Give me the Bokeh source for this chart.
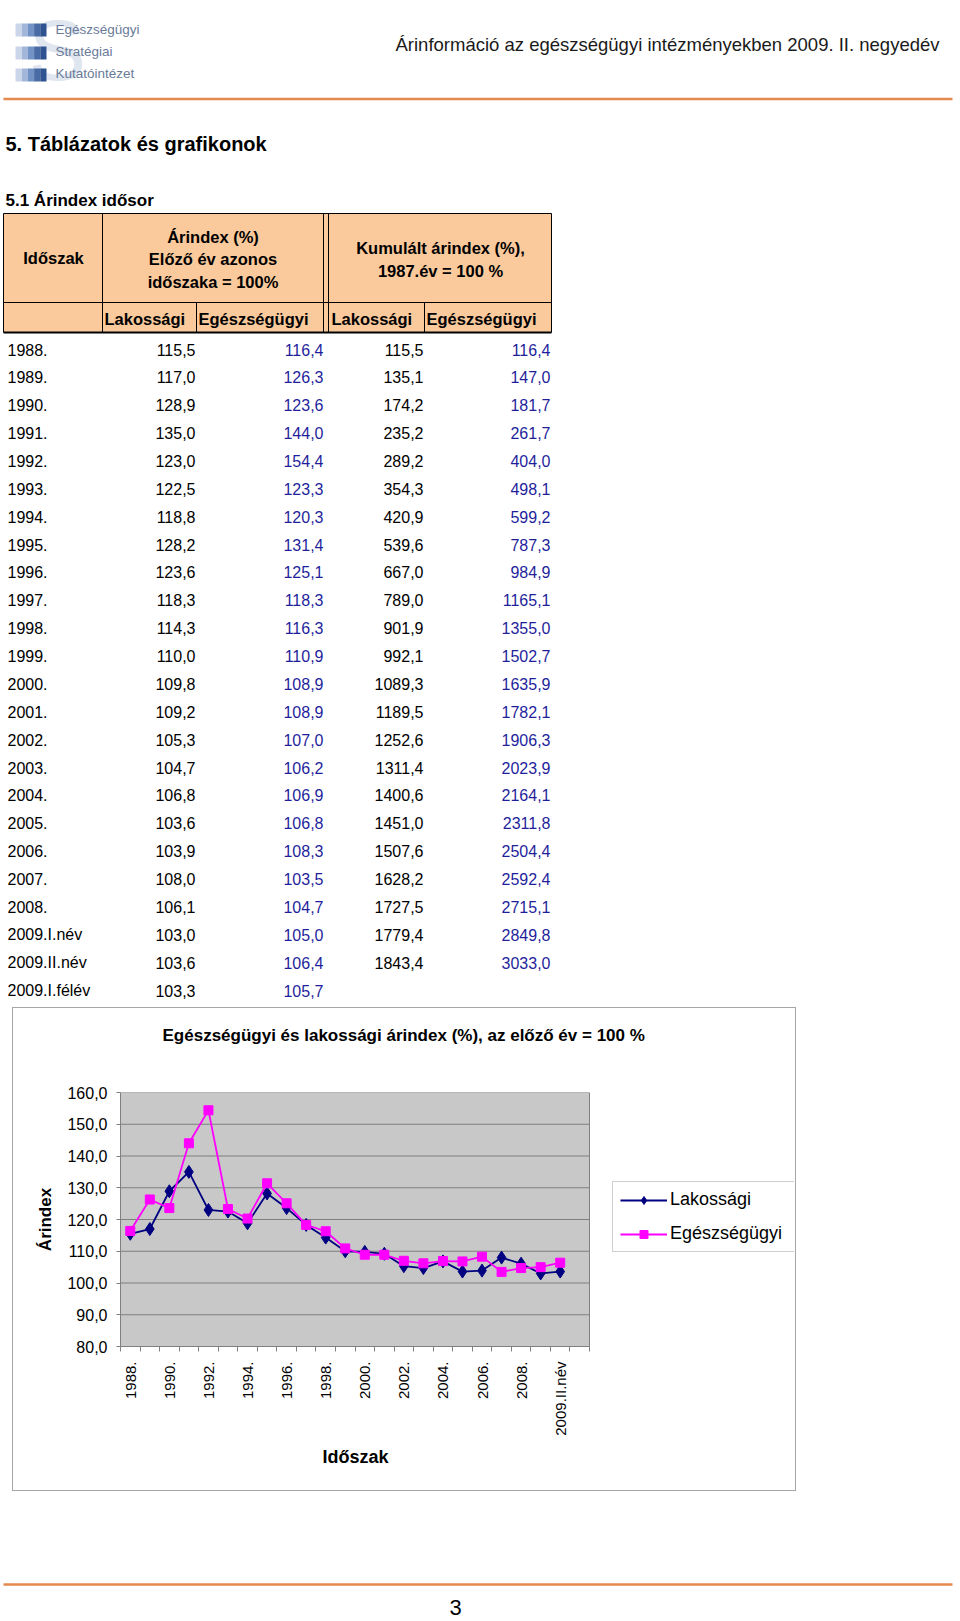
import numpy as np
from bokeh.plotting import figure
from bokeh.models import (Range1d, FixedTicker, Legend, LegendItem, Spacer,
                          ColumnDataSource, Title)
from bokeh.layouts import column, row
from bokeh.core.properties import value
from bokeh.embed import file_html
from bokeh.resources import INLINE

# ---------------- data ----------------
periods = ["1988.", "1989.", "1990.", "1991.", "1992.", "1993.", "1994.", "1995.",
           "1996.", "1997.", "1998.", "1999.", "2000.", "2001.", "2002.", "2003.",
           "2004.", "2005.", "2006.", "2007.", "2008.", "2009.I.név", "2009.II.név",
           "2009.I.félév"]
lakossagi = [115.5, 117.0, 128.9, 135.0, 123.0, 122.5, 118.8, 128.2, 123.6, 118.3,
             114.3, 110.0, 109.8, 109.2, 105.3, 104.7, 106.8, 103.6, 103.9, 108.0,
             106.1, 103.0, 103.6, 103.3]
egeszsegugyi = [116.4, 126.3, 123.6, 144.0, 154.4, 123.3, 120.3, 131.4, 125.1, 118.3,
                116.3, 110.9, 108.9, 108.9, 107.0, 106.2, 106.9, 106.8, 108.3, 103.5,
                104.7, 105.0, 106.4, 105.7]
kum_lakossagi = [115.5, 135.1, 174.2, 235.2, 289.2, 354.3, 420.9, 539.6, 667.0, 789.0,
                 901.9, 992.1, 1089.3, 1189.5, 1252.6, 1311.4, 1400.6, 1451.0, 1507.6,
                 1628.2, 1727.5, 1779.4, 1843.4, None]
kum_egeszsegugyi = [116.4, 147.0, 181.7, 261.7, 404.0, 498.1, 599.2, 787.3, 984.9,
                    1165.1, 1355.0, 1502.7, 1635.9, 1782.1, 1906.3, 2023.9, 2164.1,
                    2311.8, 2504.4, 2592.4, 2715.1, 2849.8, 3033.0, None]

chart_periods = periods[:23]          # periods plotted in the chart
chart_slots = 24                      # category slots on the chart axis (last one empty)
y_ticks = [80, 90, 100, 110, 120, 130, 140, 150, 160]

page_header = "Árinformáció az egészségügyi intézményekben 2009. II. negyedév"
section_title = "5. Táblázatok és grafikonok"
table_title = "5.1 Árindex idősor"
chart_title = "Egészségügyi és lakossági árindex (%), az előző év = 100 %"
x_title = "Időszak"
y_title = "Árindex"
logo_lines = ["Egészségügyi", "Stratégiai", "Kutatóintézet"]
page_number = "3"

ARIAL = "Liberation Sans"
BLUE_TXT = "#1f1f9c"
ORANGE = "#e58a4e"
BOX_GRAY = "#a6a6a6"


def fmt(v):
    return "" if v is None else f"{v:.1f}".replace(".", ",")


def blank(fig):
    fig.grid.visible = False
    fig.outline_line_color = None
    fig.background_fill_color = "white"
    fig.border_fill_color = "white"


# ---------------- top part: header + table ----------------
top = figure(width=960, height=1007, x_range=Range1d(0, 960), y_range=Range1d(1007, 0),
             output_backend="svg", toolbar_location=None, x_axis_type=None,
             y_axis_type=None, min_border=0)
blank(top)

# logo
top.text(x=[57], y=[49], text=["S"], text_font=value(ARIAL), text_font_size="86px",
         text_color="#dfe6ef", text_align="center", text_baseline="middle")
sq_centers = [29.5, 52.5, 74.5]
shades = ["#cbd6ea", "#a2b6d9", "#7393c6", "#4a6ca6", "#2f5291"]
for yc in sq_centers:
    for k, c in enumerate(shades):
        top.quad(left=[15 + 6.2 * k], right=[15 + 6.2 * (k + 1)], top=[yc - 6.5],
                 bottom=[yc + 6.5], fill_color=c, line_color=None)
top.text(x=[55] * 3, y=[29, 51, 73], text=logo_lines, text_font=value(ARIAL),
         text_font_size="13.5px", text_color="#6a7b99", text_baseline="middle")

top.text(x=[939], y=[44], text=[page_header], text_font=value(ARIAL),
         text_font_size="18.5px", text_color="#1a1a1a", text_align="right",
         text_baseline="middle")
top.segment(x0=[3], x1=[952], y0=[98.5], y1=[98.5], line_color=ORANGE, line_width=2.5)

top.text(x=[5], y=[143], text=[section_title], text_font=value(ARIAL),
         text_font_size="20px", text_font_style="bold", text_color="black",
         text_baseline="middle")
top.text(x=[5], y=[200], text=[table_title], text_font=value(ARIAL),
         text_font_size="17px", text_font_style="bold", text_color="black",
         text_baseline="middle")

# table header
top.quad(left=[3], right=[551], top=[213], bottom=[332], fill_color="#fbca9c",
         line_color=None)
top.segment(x0=[3, 3], x1=[551, 551], y0=[213, 302], y1=[213, 302],
            line_color="black", line_width=1)
top.segment(x0=[3], x1=[551], y0=[332], y1=[332], line_color="black", line_width=2)
top.segment(x0=[3, 102, 323, 328, 551, 196, 424],
            x1=[3, 102, 323, 328, 551, 196, 424],
            y0=[213, 213, 213, 213, 213, 302, 302],
            y1=[332, 332, 332, 332, 332, 332, 332], line_color="black", line_width=1)

hdr_font = dict(text_font=value(ARIAL), text_font_size="16.5px", text_font_style="bold",
                text_color="black", text_baseline="middle")
top.text(x=[53], y=[257], text=["Időszak"], text_align="center", **hdr_font)
top.text(x=[212.5] * 3, y=[236, 258.5, 281],
         text=["Árindex (%)", "Előző év azonos", "időszaka = 100%"],
         text_align="center", **hdr_font)
top.text(x=[440] * 2, y=[247, 270], text=["Kumulált árindex (%),", "1987.év = 100 %"],
         text_align="center", **hdr_font)
top.text(x=[104, 198, 331, 426], y=[318] * 4,
         text=["Lakossági", "Egészségügyi", "Lakossági", "Egészségügyi"],
         text_align="left", **hdr_font)

# table body
row_y = [349 + 27.87 * i for i in range(len(periods))]
src = ColumnDataSource(dict(
    y=row_y, period=periods,
    lak=[fmt(v) for v in lakossagi], eg=[fmt(v) for v in egeszsegugyi],
    klak=[fmt(v) for v in kum_lakossagi], keg=[fmt(v) for v in kum_egeszsegugyi]))
body_font = dict(text_font=value(ARIAL), text_font_size="16px", text_baseline="middle")
top.text(x=7, y="y", text="period", source=src, text_align="left",
         text_color="black", **body_font)
top.text(x=195, y="y", text="lak", source=src, text_align="right",
         text_color="black", **body_font)
top.text(x=323, y="y", text="eg", source=src, text_align="right",
         text_color=BLUE_TXT, **body_font)
top.text(x=423, y="y", text="klak", source=src, text_align="right",
         text_color="black", **body_font)
top.text(x=550, y="y", text="keg", source=src, text_align="right",
         text_color=BLUE_TXT, **body_font)

# ---------------- chart ----------------
# the frame spans the plot area plus the legend area on its right
CW, CH = 782, 482
BL, BR, BT, BB = 107, 1, 84, 144
plot_px = 469                          # pixel width of the grey plot area
frame_px = CW - BL - BR
x0 = -0.5
x_plot_end = chart_slots - 0.5
x_frame_end = x0 + chart_slots * frame_px / plot_px

p = figure(width=CW, height=CH, x_range=Range1d(x0, x_frame_end),
           y_range=Range1d(y_ticks[0], y_ticks[-1]), output_backend="svg",
           toolbar_location=None, title=None, min_border_left=BL, min_border_right=BR,
           min_border_top=BT, min_border_bottom=BB)
p.background_fill_color = "white"
p.border_fill_color = "white"
p.outline_line_color = None
p.grid.visible = False

# grey plot area with its gridlines
p.quad(left=[x0], right=[x_plot_end], bottom=[y_ticks[0]], top=[y_ticks[-1]],
       fill_color="#c8c8c8", line_color=None)
p.segment(x0=[x0] * len(y_ticks), x1=[x_plot_end] * len(y_ticks), y0=y_ticks,
          y1=y_ticks, line_color="#7f7f7f", line_width=1)
p.segment(x0=[x_plot_end], x1=[x_plot_end], y0=[y_ticks[0]], y1=[y_ticks[-1]],
          line_color="#808080", line_width=1)

# spacing title (blank) next to the frame, real title above it
p.add_layout(Title(text=" ", text_font_size="10px", standoff=30), "above")
p.add_layout(Title(text=chart_title, align="left", offset=42, text_font=ARIAL,
                   text_font_size="17px", text_font_style="bold", text_color="black"),
             "above")

p.yaxis.ticker = FixedTicker(ticks=y_ticks)
p.yaxis.major_label_overrides = {t: fmt(t) for t in y_ticks}
p.yaxis.major_label_text_font = ARIAL
p.yaxis.major_label_text_font_size = "16px"
p.yaxis.major_label_text_color = "black"
p.yaxis.major_tick_out = 4
p.yaxis.major_tick_in = 0
p.yaxis.minor_tick_line_color = None
p.yaxis.major_label_standoff = 9
p.yaxis.axis_line_color = "#808080"
p.yaxis.major_tick_line_color = "#808080"
p.yaxis.axis_label = y_title
p.yaxis.axis_label_text_font = ARIAL
p.yaxis.axis_label_text_font_size = "17px"
p.yaxis.axis_label_text_font_style = "bold"
p.yaxis.axis_label_text_color = "black"
p.yaxis.axis_label_standoff = 9

label_idx = list(range(0, len(chart_periods), 2))
p.xaxis.bounds = (x0, x_plot_end)
p.xaxis.ticker = FixedTicker(ticks=label_idx,
                             minor_ticks=[i - 0.5 for i in range(chart_slots + 1)])
p.xaxis.major_label_overrides = {i: chart_periods[i] for i in label_idx}
p.xaxis.major_label_orientation = np.pi / 2
p.xaxis.major_label_text_font = ARIAL
p.xaxis.major_label_text_font_size = "15px"
p.xaxis.major_label_text_color = "black"
p.xaxis.major_tick_out = 0
p.xaxis.major_tick_in = 0
p.xaxis.minor_tick_out = 5
p.xaxis.minor_tick_in = 0
p.xaxis.minor_tick_line_color = "#808080"
p.xaxis.major_label_standoff = 10
p.xaxis.axis_line_color = "#808080"

# x-axis title centred under the grey plot area (not under the legend)
p.add_layout(Title(text=x_title, align="left", offset=202, standoff=12,
                   text_font=ARIAL, text_font_size="18px", text_font_style="bold",
                   text_color="black"), "below")

x_idx = list(range(len(chart_periods)))
l1 = p.line(x_idx, lakossagi[:len(chart_periods)], line_color="#000080", line_width=1.8)
s1 = p.scatter(x_idx, lakossagi[:len(chart_periods)], marker="diamond", size=13,
               fill_color="#000080", line_color="#000080")
l2 = p.line(x_idx, egeszsegugyi[:len(chart_periods)], line_color="#ff00ff", line_width=1.8)
s2 = p.scatter(x_idx, egeszsegugyi[:len(chart_periods)], marker="square", size=9,
               fill_color="#ff00ff", line_color="#ff00ff")

legend = Legend(items=[LegendItem(label="Lakossági", renderers=[l1, s1]),
                       LegendItem(label="Egészségügyi", renderers=[l2, s2])],
                location=(plot_px + 23, 94), orientation="vertical",
                label_text_font=ARIAL, label_text_font_size="18px",
                label_text_color="black", label_height=20, label_width=117,
                glyph_height=20, glyph_width=47, label_standoff=3, padding=7,
                spacing=13, margin=0, border_line_color="#a0a0a0",
                background_fill_color="white", background_fill_alpha=1.0)
p.add_layout(legend)


def hline(w):
    return Spacer(width=w, height=1, styles={"background-color": BOX_GRAY})


def vline(h):
    return Spacer(width=1, height=h, styles={"background-color": BOX_GRAY})


chart_box = column(hline(CW + 2), row(vline(CH), p, vline(CH)), hline(CW + 2))

# ---------------- bottom ----------------
bot = figure(width=960, height=129, x_range=Range1d(0, 960), y_range=Range1d(1620, 1491),
             output_backend="svg", toolbar_location=None, x_axis_type=None,
             y_axis_type=None, min_border=0)
blank(bot)
bot.segment(x0=[3], x1=[952], y0=[1584], y1=[1584], line_color=ORANGE, line_width=2.5)
bot.text(x=[455], y=[1607], text=[page_number], text_font=value(ARIAL),
         text_font_size="22px", text_color="black", text_align="center",
         text_baseline="middle")

layout = column(top, row(Spacer(width=12, height=CH + 2), chart_box), bot)

with open("out.html", "w", encoding="utf-8") as f:
    f.write(file_html(layout, INLINE))
